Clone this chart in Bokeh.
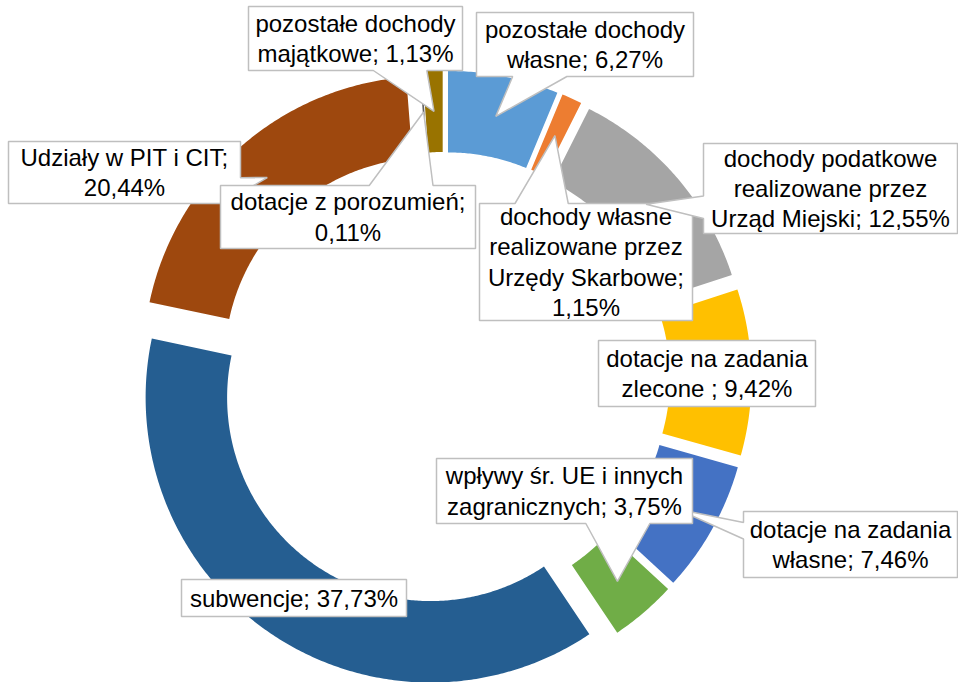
import textwrap
import numpy as np
from bokeh.plotting import figure
from bokeh.models import Range1d
from bokeh.core.properties import value
from bokeh.embed import file_html
from bokeh.resources import INLINE

# ---------------- data (clockwise from 12 o'clock) ----------------
categories = [
    "pozostałe dochody własne",
    "dochody własne realizowane przez Urzędy Skarbowe",
    "dochody podatkowe realizowane przez Urząd Miejski",
    "dotacje na zadania zlecone ",
    "dotacje na zadania własne",
    "wpływy śr. UE i innych zagranicznych",
    "subwencje",
    "Udziały w PIT i CIT",
    "dotacje z porozumień",
    "pozostałe dochody majątkowe",
]
values = [6.27, 1.15, 12.55, 9.42, 7.46, 3.75, 37.73, 20.44, 0.11, 1.13]
colors = ["#5B9BD5", "#ED7D31", "#A5A5A5", "#FFC000", "#4472C4",
          "#70AD47", "#255E91", "#9E480E", "#636363", "#997300"]

# ---------------- layout (pixels of the 958x682 page) ----------------
CENTER = (443.0, 378.0)
R_OUT, R_IN, EXPLODE = 285.0, 203.5, 23.0
label_boxes = [
    (476, 12, 693, 76),
    (479, 203, 692, 320),
    (703, 143, 957, 233),
    (598, 340, 815, 406),
    (743, 511, 957, 577),
    (436, 458, 692, 523),
    (181, 579, 406, 616),
    (8, 141, 240, 203),
    (220, 185, 475, 248),
    (248, 6, 462, 70),
]
label_wrap = [18, 17, 21, 18, 18, 22, 20, 20, 21, 17]
FONT = "Liberation Sans"
BORDER = "#BFBFBF"

W, H = 958, 682
p = figure(width=W, height=H, x_range=Range1d(0, W), y_range=Range1d(H, 0),
           output_backend="svg", toolbar_location=None,
           x_axis_location=None, y_axis_location=None,
           min_border=0, outline_line_color=None, background_fill_color="white")
p.grid.visible = False

# ---------------- slices ----------------
total = float(sum(values))
cum = np.concatenate([[0.0], np.cumsum(values)]) / total * 2 * np.pi
xs, ys, anchors = [], [], []
rm = (R_OUT + R_IN) / 2
for i in range(len(values)):
    a0, a1 = cum[i], cum[i + 1]
    m = (a0 + a1) / 2
    cx = CENTER[0] + EXPLODE * np.sin(m)
    cy = CENTER[1] - EXPLODE * np.cos(m)
    n = max(4, int(np.degrees(a1 - a0) * 2))
    th = np.linspace(a0, a1, n)
    ox = cx + R_OUT * np.sin(th)
    oy = cy - R_OUT * np.cos(th)
    ix = cx + R_IN * np.sin(th[::-1])
    iy = cy - R_IN * np.cos(th[::-1])
    xs.append(list(np.concatenate([ox, ix])))
    ys.append(list(np.concatenate([oy, iy])))
    anchors.append((cx + rm * np.sin(m), cy - rm * np.cos(m)))

p.patches(xs, ys, fill_color=colors, line_color=None)


def callout(box, tip):
    x0, y0, x1, y1 = box
    w, h = x1 - x0, y1 - y0
    tx, ty = tip
    if x0 <= tx <= x1 and y0 <= ty <= y1:
        pts = [(x0, y0), (x1, y0), (x1, y1), (x0, y1)]
    else:
        hc, vc = (x0 + x1) / 2, (y0 + y1) / 2
        dxp, dyp = tx - hc, ty - vc
        if abs(dxp * h) > abs(dyp * w):
            ya = y0 + h * (7 if dyp > 0 else 2) / 12
            yb = y0 + h * (10 if dyp > 0 else 5) / 12
            if dxp < 0:
                pts = [(x0, y0), (x1, y0), (x1, y1), (x0, y1), (x0, yb), (tx, ty), (x0, ya)]
            else:
                pts = [(x0, y0), (x1, y0), (x1, ya), (tx, ty), (x1, yb), (x1, y1), (x0, y1)]
        else:
            xa = x0 + w * (7 if dxp > 0 else 2) / 12
            xb = x0 + w * (10 if dxp > 0 else 5) / 12
            if dyp < 0:
                pts = [(x0, y0), (xa, y0), (tx, ty), (xb, y0), (x1, y0), (x1, y1), (x0, y1)]
            else:
                pts = [(x0, y0), (x1, y0), (x1, y1), (xb, y1), (tx, ty), (xa, y1), (x0, y1)]
    return [q[0] for q in pts], [q[1] for q in pts]


for i, name in enumerate(categories):
    pct = f"{values[i]:.2f}".replace(".", ",") + "%"
    label = textwrap.fill(f"{name}; {pct}", width=label_wrap[i], break_long_words=False)
    bx, by = callout(label_boxes[i], anchors[i])
    p.patch(bx, by, fill_color="white", line_color=BORDER, line_width=1.5)
    x0, y0, x1, y1 = label_boxes[i]
    p.text(x=[(x0 + x1) / 2], y=[(y0 + y1) / 2], text=[label],
           text_font=value(FONT), text_font_size="24px", text_color="#000000",
           text_align="center", text_baseline="middle", text_line_height=1.125)

open("out.html", "w").write(file_html(p, INLINE))
